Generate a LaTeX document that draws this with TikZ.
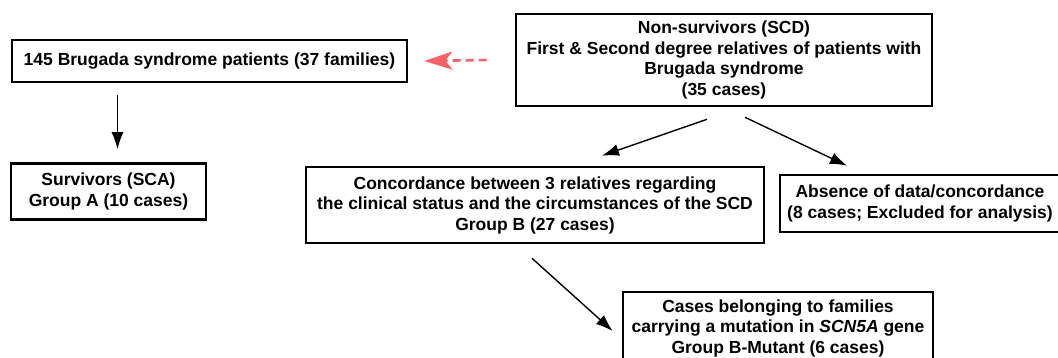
\documentclass[tikz,border=0pt]{standalone}
\usepackage{fontspec}
\setmainfont{Liberation Sans}
\usepackage{xcolor}
\usepackage{tikz}
\usetikzlibrary{arrows.meta, positioning, calc}
\definecolor{linkred}{RGB}{244,98,104}
\tikzset{
  box/.style={draw, line width=2.6pt, align=center, inner sep=0pt,
    font=\fontsize{17.5}{20.5}\selectfont\bfseries},
  flow/.style={-{Latex[length=17pt, width=12pt]}, line width=1.4pt},
  link/.style={-{Stealth[length=28pt, width=18pt, inset=7pt]}, linkred,
    line width=2.6pt, dash pattern=on 8pt off 5pt}
}

\begin{document}
\begin{tikzpicture}[x=1pt, y=-1pt]
\useasboundingbox (0,0) rectangle (1058,357);
\clip (0,0) rectangle (1058,357);

% Patients and non-survivors
\node[box, minimum width=395pt, minimum height=42pt] (patients) at (209.5,61) {145 Brugada syndrome patients (37 families)};
\node[box, minimum width=416pt, minimum height=92pt] (nonsurv) at (724,60) {Non-survivors (SCD)\\First \& Second degree relatives of patients with\\Brugada syndrome\\(35 cases)};
\draw[link] ([xshift=-28pt]nonsurv.west) -- ([xshift=16pt]patients.east);

% Groups
\node[box, minimum width=195pt, minimum height=56pt] (survivors) at (108.5,191.5) {Survivors (SCA)\\Group A (10 cases)};
\node[box, minimum width=458pt, minimum height=76pt] (concord) at (535,205) {Concordance between 3 relatives regarding\\the clinical status and the circumstances of the SCD\\Group B (27 cases)};
\node[box, minimum width=280pt, minimum height=57pt] (absence) at (920,203.5) {Absence of data/concordance\\(8 cases; Excluded for analysis)};
\node[box, minimum width=310pt, minimum height=72pt] (mutant) at (778,328) {Cases belonging to families\\carrying a mutation in \textit{SCN5A} gene\\Group B-Mutant (6 cases)};

% Arrows
\draw[flow] ($(patients.south -| survivors.north)+(9,12)$) -- ($(survivors.north)+(9,-13)$);
\draw[flow] ($(nonsurv.south)+(-17,12)$) -- ($(concord.north)+(67,-10)$);
\draw[flow] ($(nonsurv.south)+(21,10)$) -- ($(absence.north)+(-73,-8)$);
\draw[flow] ($(concord.south)+(-3,14)$) -- ($(mutant.west)+(-9,3)$);

\end{tikzpicture}
\end{document}
